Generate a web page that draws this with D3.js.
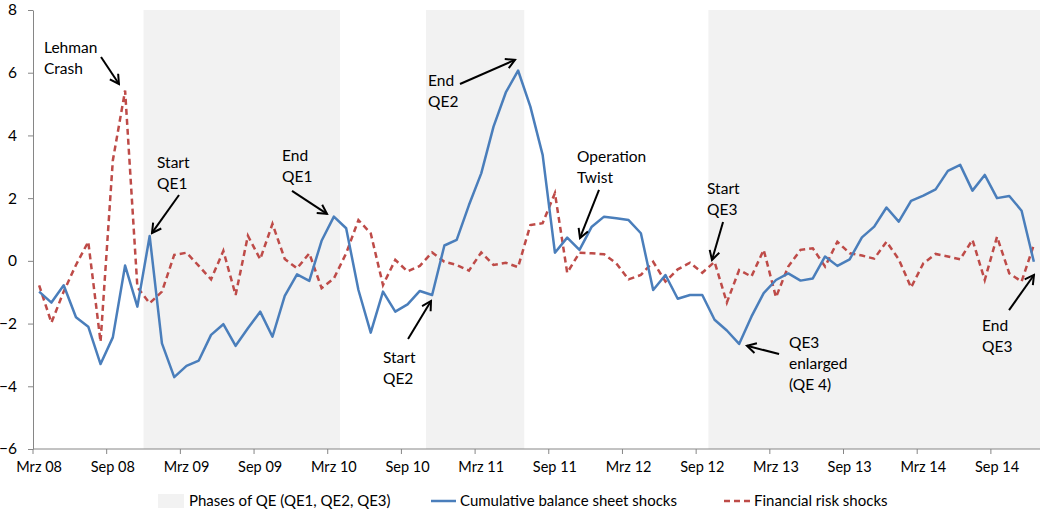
<!DOCTYPE html>
<html>
<head>
<meta charset="utf-8">
<script src="https://cdn.jsdelivr.net/npm/d3@7"></script>
<style>
  body { margin: 0; background: #fff; }
  svg text { font-family: Lato, "Open Sans", sans-serif; fill: #000; }
</style>
</head>
<body>
<svg id="chart" width="1042" height="513"></svg>
<script>
// Month labels (German abbreviations), Mrz 08 .. Dez 14
const monthNames = ["Jan", "Feb", "Mrz", "Apr", "Mai", "Jun", "Jul", "Aug", "Sep", "Okt", "Nov", "Dez"];
const years = ["08", "09", "10", "11", "12", "13", "14"];
const categories = years.flatMap(yr => monthNames.map(m => `${m} ${yr}`)).slice(2);

// Cumulative balance sheet shocks
const balanceShocks = [
  -0.98, -1.33, -0.78, -1.80, -2.10, -3.29, -2.44, -0.15, -1.46, 0.79,
  -2.63, -3.71, -3.35, -3.18, -2.36, -2.02, -2.71, -2.15, -1.62, -2.42,
  -1.12, -0.43, -0.64, 0.64, 1.41, 1.04, -0.93, -2.29, -0.98, -1.62,
  -1.39, -0.96, -1.09, 0.49, 0.67, 1.78, 2.79, 4.28, 5.37, 6.07,
  4.92, 3.38, 0.26, 0.74, 0.35, 1.09, 1.41, 1.36, 1.30, 0.88,
  -0.93, -0.45, -1.21, -1.09, -1.09, -1.88, -2.22, -2.65, -1.78, -1.03,
  -0.61, -0.40, -0.63, -0.56, 0.14, -0.16, 0.05, 0.75, 1.09, 1.70,
  1.25, 1.91, 2.08, 2.28, 2.87, 3.06, 2.24, 2.74, 2.00, 2.07,
  1.60, -0.03
];

// Financial risk shocks
const riskShocks = [
  -0.78, -1.97, -0.98, -0.13, 0.61, -2.58, 3.20, 5.43, -0.84, -1.35,
  -0.98, 0.19, 0.26, -0.16, -0.59, 0.32, -1.09, 0.80, 0.05, 1.18,
  0.06, -0.24, 0.24, -0.87, -0.56, 0.24, 1.30, 0.88, -0.77, 0.03,
  -0.34, -0.16, 0.27, -0.03, -0.13, -0.31, 0.27, -0.13, -0.06, -0.20,
  1.14, 1.20, 2.16, -0.38, 0.26, 0.24, 0.21, -0.08, -0.59, -0.45,
  -0.03, -0.66, -0.27, -0.06, -0.38, -0.03, -1.33, -0.29, -0.50, 0.35,
  -1.16, -0.18, 0.35, 0.40, -0.18, 0.61, 0.24, 0.17, 0.07, 0.61,
  0.05, -0.85, -0.08, 0.22, 0.14, 0.05, 0.67, -0.61, 0.77, -0.40,
  -0.66, 0.51
];

// QE phases (first and last month shaded)
const qePhases = [["Dez 08", "Mrz 10"], ["Nov 10", "Jun 11"], ["Okt 12", "Dez 14"]];

const yTicks = [-6, -4, -2, 0, 2, 4, 6, 8];
const xTickLabels = categories.filter((d, i) => i % 6 === 0);

// Annotations: text anchor and arrow in (month index, value) coordinates
const annotations = [
  { lines: ["Lehman", "Crash"], tx: 0.9, ty: 6.79, from: [5.54, 6.50], to: [7.0, 5.64] },
  { lines: ["Start", "QE1"], tx: 10.1, ty: 3.12, from: [11.89, 2.10], to: [9.69, 0.89] },
  { lines: ["End", "QE1"], tx: 20.28, ty: 3.35, from: [21.09, 2.23], to: [23.94, 1.50] },
  { lines: ["Start", "QE2"], tx: 28.5, ty: -3.09, from: [30.54, -2.49], to: [32.41, -1.28] },
  { lines: ["End", "QE2"], tx: 32.17, ty: 5.74, from: [34.77, 5.64], to: [39.25, 6.41] },
  { lines: ["Operation", "Twist"], tx: 44.3, ty: 3.31, from: [46.09, 2.26], to: [44.54, 0.73] },
  { lines: ["Start", "QE3"], tx: 54.89, ty: 2.29, from: [56.19, 1.24], to: [55.29, 0.03] },
  { lines: ["QE3", "enlarged", "(QE 4)"], tx: 61.56, ty: -2.62, from: [60.75, -2.97], to: [58.14, -2.71] },
  { lines: ["End", "QE3"], tx: 77.28, ty: -2.07, from: [79.48, -1.57], to: [81.51, -0.45] }
];

// Chart dimensions
const marginLeft = 33;
const plotRight = 1040;
const plotTop = 10;
const plotBottom = 449;

const blue = "#4a7ebb";
const red = "#be4b48";
const axisColor = "#868686";

const svg = d3.select("#chart");

// Scales
const x = d3.scaleBand().domain(categories).range([marginLeft, plotRight]).padding(0);
const xi = d3.scaleLinear().domain([0, categories.length]).range([marginLeft, plotRight]);
const y = d3.scaleLinear().domain([-6, 8]).range([plotBottom, plotTop]);
const cx = d => x(d) + x.bandwidth() / 2;

// QE shading
svg.append("g")
  .selectAll("rect")
  .data(qePhases)
  .join("rect")
  .attr("x", d => x(d[0]))
  .attr("width", d => x(d[1]) + x.bandwidth() - x(d[0]))
  .attr("y", plotTop)
  .attr("height", plotBottom - plotTop)
  .attr("fill", "#f2f2f2");

// Y axis
const yAxis = svg.append("g")
  .attr("transform", `translate(${marginLeft},0)`)
  .call(d3.axisLeft(y).tickValues(yTicks).tickSize(5).tickPadding(11).tickSizeOuter(0));
yAxis.select(".domain").attr("stroke", axisColor);
yAxis.selectAll(".tick line").attr("stroke", axisColor);
yAxis.selectAll(".tick text").style("font-size", "15.5px");

// X axis: line, boundary ticks, centred labels
svg.append("line")
  .attr("x1", marginLeft).attr("x2", plotRight)
  .attr("y1", plotBottom).attr("y2", plotBottom)
  .attr("stroke", axisColor);

svg.append("g")
  .selectAll("line")
  .data(xTickLabels)
  .join("line")
  .attr("x1", d => x(d)).attr("x2", d => x(d))
  .attr("y1", plotBottom).attr("y2", plotBottom + 5)
  .attr("stroke", axisColor);

svg.append("g")
  .selectAll("text")
  .data(xTickLabels)
  .join("text")
  .attr("x", d => cx(d))
  .attr("y", plotBottom + 23)
  .attr("text-anchor", "middle")
  .style("font-size", "14.5px")
  .text(d => d);

// Lines
const line = values => d3.line()
  .x((d, i) => cx(categories[i]))
  .y(d => y(d))(values);

svg.append("path")
  .attr("d", line(riskShocks))
  .attr("fill", "none")
  .attr("stroke", red)
  .attr("stroke-width", 2.5)
  .attr("stroke-dasharray", "6,4");

svg.append("path")
  .attr("d", line(balanceShocks))
  .attr("fill", "none")
  .attr("stroke", blue)
  .attr("stroke-width", 2.5)
  .attr("stroke-linejoin", "round");

// Arrow marker
svg.append("defs").append("marker")
  .attr("id", "arrow")
  .attr("viewBox", "0 0 12 12")
  .attr("refX", 10).attr("refY", 6)
  .attr("markerWidth", 12).attr("markerHeight", 12)
  .attr("markerUnits", "userSpaceOnUse")
  .attr("orient", "auto")
  .append("path")
  .attr("d", "M1,1 L10,6 L1,11")
  .attr("fill", "none")
  .attr("stroke", "#000")
  .attr("stroke-width", 2);

// Annotations
const ann = svg.append("g").selectAll("g").data(annotations).join("g");

ann.append("line")
  .attr("x1", d => xi(d.from[0])).attr("y1", d => y(d.from[1]))
  .attr("x2", d => xi(d.to[0])).attr("y2", d => y(d.to[1]))
  .attr("stroke", "#000")
  .attr("stroke-width", 2)
  .attr("marker-end", "url(#arrow)");

ann.append("text")
  .attr("x", d => xi(d.tx))
  .attr("y", d => y(d.ty) + 5)
  .style("font-size", "15.5px")
  .each(function (d) {
    const t = d3.select(this);
    d.lines.forEach((s, i) => {
      t.append("tspan")
        .attr("x", xi(d.tx))
        .attr("dy", i === 0 ? 0 : 21)
        .text(s);
    });
  });

// Legend
const legend = svg.append("g").attr("transform", "translate(0,501)");
legend.append("rect").attr("x", 158).attr("y", -7).attr("width", 26).attr("height", 14).attr("fill", "#f2f2f2");
legend.append("text").attr("x", 189).attr("y", 5).style("font-size", "15px").text("Phases of QE (QE1, QE2, QE3)");
legend.append("line").attr("x1", 431).attr("x2", 456).attr("y1", 0).attr("y2", 0)
  .attr("stroke", blue).attr("stroke-width", 2.5);
legend.append("text").attr("x", 460).attr("y", 5).style("font-size", "15px").text("Cumulative balance sheet shocks");
legend.append("line").attr("x1", 724).attr("x2", 750).attr("y1", 0).attr("y2", 0)
  .attr("stroke", red).attr("stroke-width", 2.5).attr("stroke-dasharray", "6,4");
legend.append("text").attr("x", 754).attr("y", 5).style("font-size", "15px").text("Financial risk shocks");
</script>
</body>
</html>
